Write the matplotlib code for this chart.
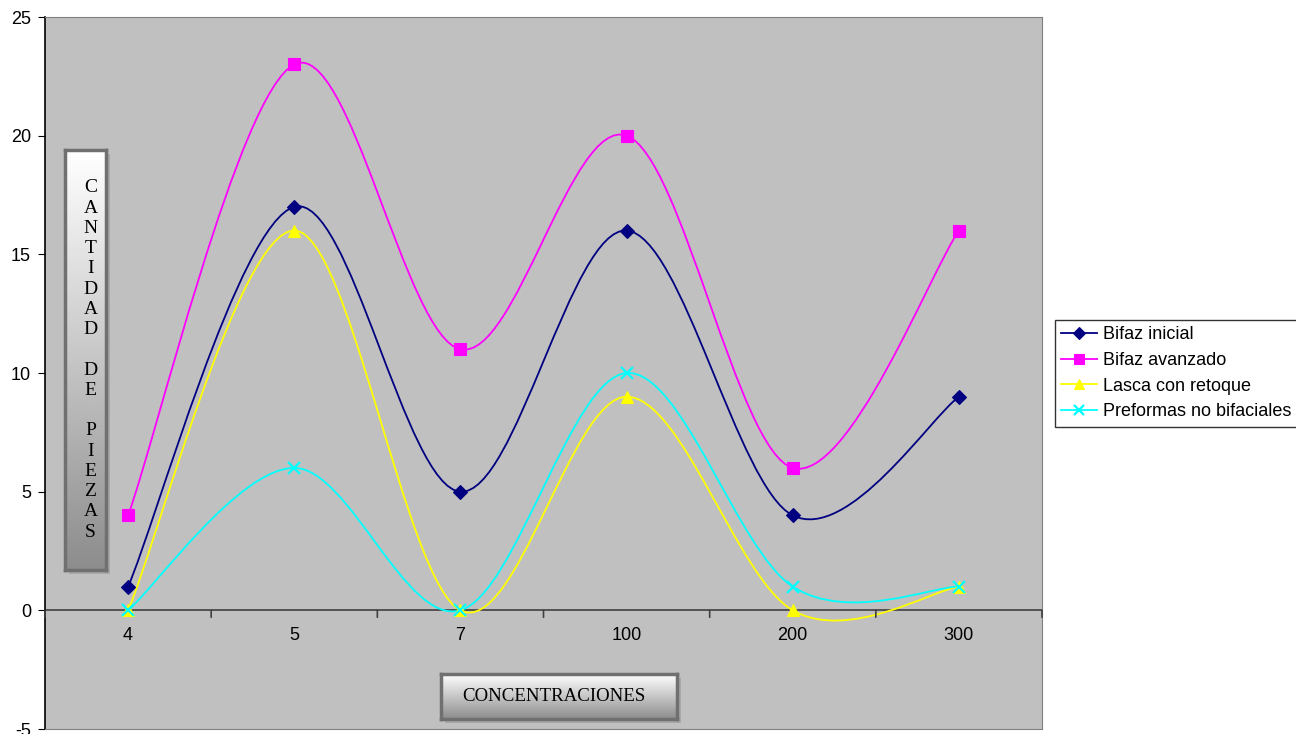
import numpy as np
import matplotlib.pyplot as plt
from matplotlib.path import Path
from matplotlib.patches import PathPatch, Rectangle
from matplotlib.lines import Line2D

plt.rcParams["font.family"] = ["Liberation Sans", "DejaVu Sans"]
plt.rcParams["axes.unicode_minus"] = False

# Datos por concentración
concentraciones = ["4", "5", "7", "100", "200", "300"]
bifaz_inicial = [1, 17, 5, 16, 4, 9]
bifaz_avanzado = [4, 23, 11, 20, 6, 16]
lasca_retoque = [0, 16, 0, 9, 0, 1]
preformas = [0, 6, 0, 10, 1, 1]

series = [
    ("Bifaz inicial", bifaz_inicial, "#000080", "D", 7),
    ("Bifaz avanzado", bifaz_avanzado, "#FF00FF", "s", 8),
    ("Lasca con retoque", lasca_retoque, "#FFFF00", "^", 8),
    ("Preformas no bifaciales", preformas, "#00FFFF", "x", 8),
]


def curva_suave(x, y):
    # spline tipo Catmull-Rom expresado como Bezier cúbico
    x = np.asarray(x, float)
    y = np.asarray(y, float)
    pts = np.column_stack([x, y])
    ext = np.vstack([pts[0], pts, pts[-1]])
    verts = [pts[0]]
    codes = [Path.MOVETO]
    for i in range(len(pts) - 1):
        p0, p1, p2, p3 = ext[i], ext[i + 1], ext[i + 2], ext[i + 3]
        c1 = p1 + (p2 - p0) / 6
        c2 = p2 - (p3 - p1) / 6
        verts += [c1, c2, p2]
        codes += [Path.CURVE4] * 3
    return Path(verts, codes)


fig = plt.figure(figsize=(12.96, 7.34), dpi=100)
fig.patch.set_facecolor("white")
ax = fig.add_axes([45 / 1296, 1 - 729 / 734, (1042 - 45) / 1296, (729 - 17) / 734])
ax.set_facecolor("#C0C0C0")

x = np.arange(len(concentraciones))
for nombre, vals, color, marker, ms in series:
    ax.add_patch(PathPatch(curva_suave(x, vals), facecolor="none",
                           edgecolor=color, lw=1.3, zorder=3))
    ax.plot(x, vals, linestyle="none", marker=marker, color=color,
            markersize=ms, markeredgewidth=1.6 if marker == "x" else 0.8, zorder=4)

ax.set_xlim(-0.5, len(concentraciones) - 0.5)
ax.set_ylim(-5, 25)
ax.set_yticks(range(-5, 26, 5))
ax.tick_params(axis="y", direction="out", length=5, labelsize=13, pad=5)
ax.set_xticks([])

for s in ["top", "right", "bottom"]:
    ax.spines[s].set_color("#808080")
ax.spines["left"].set_color("black")
ax.spines["left"].set_linewidth(1.2)

# eje de categorías sobre el cero
ax.axhline(0, color="#404040", lw=1.2, zorder=2)
for b in np.arange(-0.5, len(concentraciones), 1.0):
    ax.annotate("", xy=(b, 0), xytext=(0, -5), textcoords="offset points",
                arrowprops=dict(arrowstyle="-", color="#404040", lw=1.2,
                                shrinkA=0, shrinkB=0))
for i, c in enumerate(concentraciones):
    ax.annotate(c, xy=(i, 0), xytext=(0, -18), textcoords="offset points",
                ha="center", va="center", fontsize=13)


def caja_degradada(x0, y0, w, h):
    W, H = 1296, 734
    # sombra
    fig.patches.append(Rectangle(((x0 + 4) / W, 1 - (y0 + h + 4) / H), w / W, h / H,
                                 transform=fig.transFigure, facecolor="#A8A8A8",
                                 edgecolor="none", zorder=5))
    bx = fig.add_axes([x0 / W, 1 - (y0 + h) / H, w / W, h / H], zorder=6)
    grad = np.linspace(1.0, 0.55, 256).reshape(-1, 1)
    bx.imshow(grad, cmap="gray", vmin=0, vmax=1, aspect="auto", extent=[0, 1, 0, 1])
    bx.set_xticks([])
    bx.set_yticks([])
    for s in bx.spines.values():
        s.set_color("#707070")
        s.set_linewidth(2.5)
    return bx


ybox = caja_degradada(65, 150, 41, 420)
ybox.text(0.62, 0.5, "C\nA\nN\nT\nI\nD\nA\nD\n\nD\nE\n\nP\nI\nE\nZ\nA\nS",
          ha="center", va="center", fontsize=14, family="Liberation Serif",
          linespacing=1.25, transform=ybox.transAxes)

xbox = caja_degradada(441, 674, 236, 45)
xbox.text(0.09, 0.5, "CONCENTRACIONES", ha="left", va="center", fontsize=13.6,
          family="Liberation Serif", transform=xbox.transAxes)

handles = [Line2D([], [], color=c, marker=m, markersize=ms - 1, lw=1.3,
                  markeredgewidth=1.6 if m == "x" else 0.8)
           for _, _, c, m, ms in series]
leg = fig.legend(handles, [s[0] for s in series], loc="upper left",
                 bbox_to_anchor=(1055 / 1296, 1 - 320 / 734),
                 frameon=True, fancybox=False,
                 prop={"family": "Liberation Sans", "size": 13},
                 handlelength=2.0, handletextpad=0.3, borderpad=0.35,
                 labelspacing=0.48, borderaxespad=0)
leg.get_frame().set_edgecolor("black")
leg.get_frame().set_linewidth(1.0)

fig.savefig("out.png", dpi=100)
